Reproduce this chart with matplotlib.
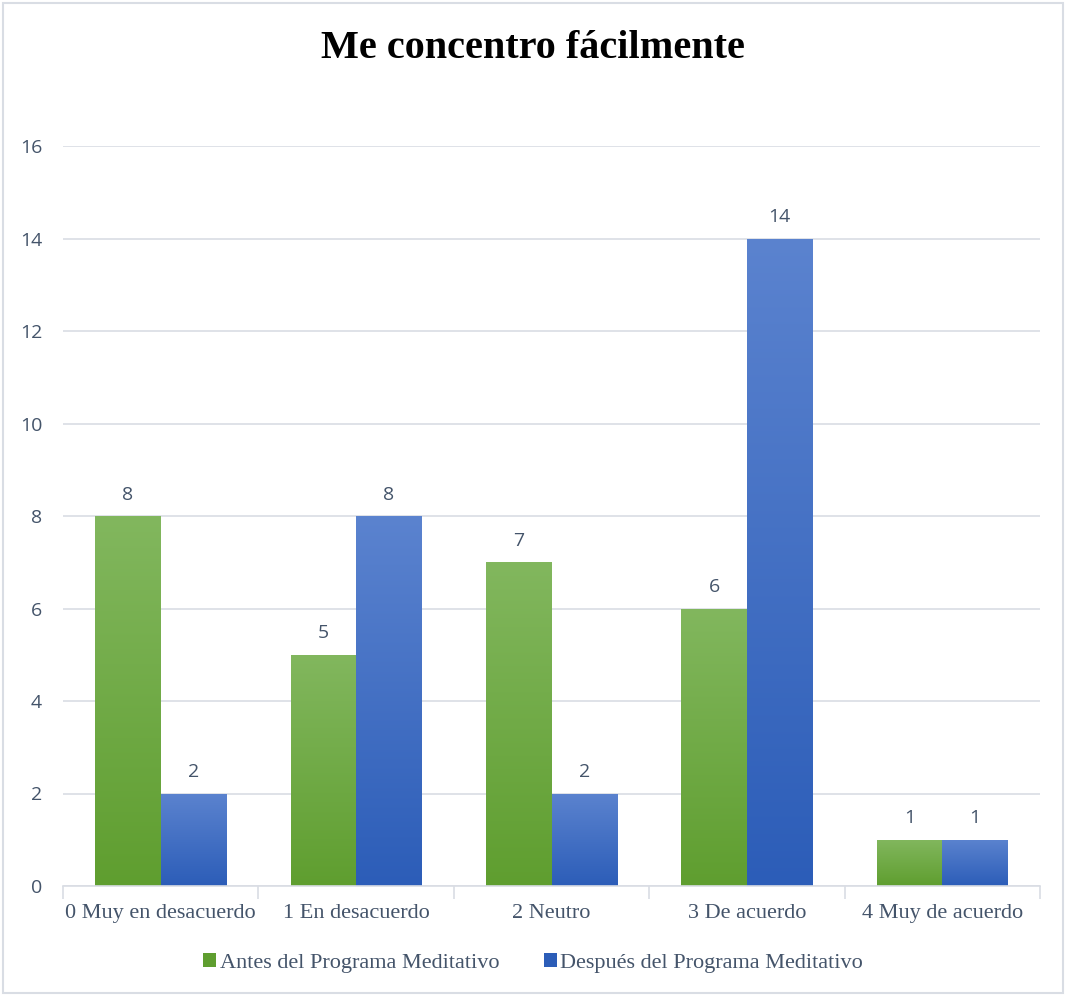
import numpy as np
import matplotlib
matplotlib.use("Agg")
import matplotlib.pyplot as plt
from matplotlib.patches import Rectangle, Patch
from matplotlib.colors import LinearSegmentedColormap

categories = ["0 Muy en desacuerdo", "1 En desacuerdo", "2 Neutro", "3 De acuerdo", "4 Muy de acuerdo"]
antes = [8, 5, 7, 6, 1]
despues = [2, 8, 2, 14, 1]
series_names = ["Antes del Programa Meditativo", "Después del Programa Meditativo"]
yticks = [0, 2, 4, 6, 8, 10, 12, 14, 16]

text_color = "#44546a"
grid_color = "#d9dde4"
green_top, green_bot = "#82b75e", "#5f9e2f"
blue_top, blue_bot = "#5b83cf", "#2c5db8"

fig = plt.figure(figsize=(10.66, 9.96), dpi=100)
ax = fig.add_axes([63 / 1066, 1 - 886 / 996, (1040 - 63) / 1066, (886 - 146) / 996])

x = np.arange(len(categories))
bw = 0.335


def gradient_bars(xs, vals, top, bot, label):
    cmap = LinearSegmentedColormap.from_list("g", [bot, top])
    grad = np.linspace(0, 1, 256).reshape(-1, 1)
    bars = ax.bar(xs, vals, width=bw, color=bot, label=label, zorder=2)
    for b in bars:
        x0, y0 = b.get_x(), b.get_y()
        w, h = b.get_width(), b.get_height()
        b.set_facecolor("none")
        b.set_edgecolor("none")
        im = ax.imshow(grad, cmap=cmap, origin="lower", aspect="auto",
                       extent=[x0, x0 + w, y0, y0 + h], zorder=2)
        im.set_clip_path(Rectangle((x0, y0), w, h, transform=ax.transData))
    return bars


gradient_bars(x - bw / 2, antes, green_top, green_bot, series_names[0])
gradient_bars(x + bw / 2, despues, blue_top, blue_bot, series_names[1])

for xs, vals in ((x - bw / 2, antes), (x + bw / 2, despues)):
    for xi, v in zip(xs, vals):
        ax.annotate(str(v), (xi, v), xytext=(0, 9), textcoords="offset points",
                    ha="center", va="bottom", fontsize=14, color=text_color,
                    family="Open Sans")

ax.set_xlim(-0.5, len(categories) - 0.5)
ax.set_ylim(0, 16)
ax.set_yticks(yticks)
ax.set_yticklabels([str(t) for t in yticks], family="Open Sans", fontsize=14, color=text_color)
ax.tick_params(axis="y", length=0, pad=15)
ax.yaxis.grid(True, color=grid_color, linewidth=1.2, zorder=0)
ax.set_axisbelow(True)

ax.set_xticks(x)
ax.set_xticklabels(categories, family="Liberation Serif", fontsize=16, color=text_color)
ax.tick_params(axis="x", length=0, pad=13)
ax.set_xticks(np.arange(-0.5, len(categories)), minor=True)
ax.tick_params(axis="x", which="minor", length=9, color=grid_color, width=1.2)

for s in ("top", "right", "left"):
    ax.spines[s].set_visible(False)
ax.spines["bottom"].set_color(grid_color)
ax.spines["bottom"].set_linewidth(1.2)

fig.suptitle("Me concentro fácilmente", y=1 - 48 / 996, va="center",
             family="Liberation Serif", fontweight="bold", fontsize=29, color="black")

handles = [Patch(facecolor=green_bot, edgecolor="none"), Patch(facecolor=blue_bot, edgecolor="none")]
fig.legend(handles, series_names, loc="center", bbox_to_anchor=(0.5, 1 - 963 / 996),
           ncol=2, frameon=False, handlelength=0.6, handleheight=0.6, handletextpad=0.15,
           columnspacing=2.0, prop={"family": "Liberation Serif", "size": 16},
           labelcolor=text_color)

fig.patches.append(Rectangle((3 / 1066, 3 / 996), 1 - 6 / 1066, 1 - 6 / 996,
                             transform=fig.transFigure, fill=False,
                             edgecolor="#d9dde4", linewidth=1.5))

fig.savefig("out.png", dpi=100, facecolor="white")
